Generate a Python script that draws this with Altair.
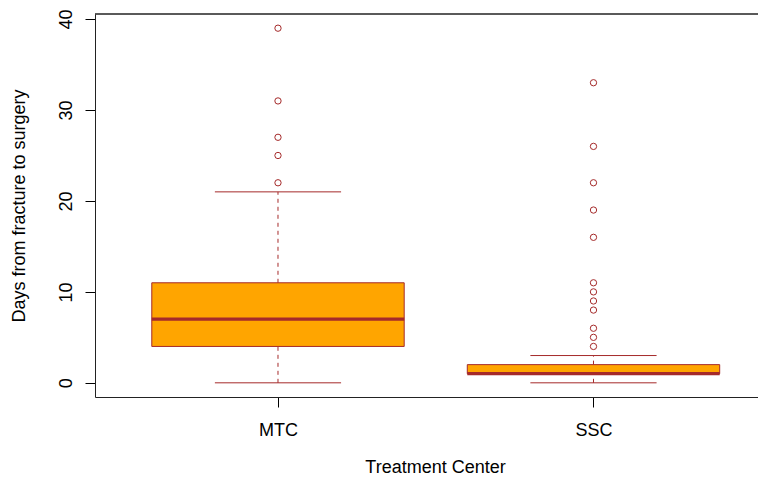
import altair as alt
import pandas as pd

groups = ["MTC", "SSC"]
whisker_low = [0, 0]
q1 = [4, 1]
median = [7, 1]
q3 = [11, 2]
whisker_high = [21, 3]
outliers_mtc = [22, 25, 27, 31, 39]
outliers_ssc = [4, 5, 6, 8, 9, 10, 11, 16, 19, 22, 26, 33]
y_ticks = [0, 10, 20, 30, 40]

box_df = pd.DataFrame({
    "group": groups,
    "pos": list(range(1, len(groups) + 1)),
    "lo": whisker_low,
    "q1": q1,
    "med": median,
    "q3": q3,
    "hi": whisker_high,
})
out_df = pd.DataFrame({
    "group": ["MTC"] * len(outliers_mtc) + ["SSC"] * len(outliers_ssc),
    "val": outliers_mtc + outliers_ssc,
})
out_df["pos"] = out_df["group"].map({g: i + 1 for i, g in enumerate(groups)})

BROWN = "#A52A2A"
ORANGE = "#FFA500"
FONT = "Liberation Sans"
W, H = 663, 383

xscale = alt.Scale(domain=[0.42, 0.42 + W / 315.5], nice=False, zero=False)
yscale = alt.Scale(domain=[-1.56, 40.56], nice=False, zero=False)

label_expr = "datum.value == 1 ? 'MTC' : datum.value == 2 ? 'SSC' : ''"

xaxis = alt.Axis(
    values=[1, 2], labelExpr=label_expr, grid=False, domain=True,
    domainColor="#222", domainWidth=1,
    tickSize=10, tickColor="#000", labelPadding=14, labelFontSize=18,
    labelFont=FONT, labelColor="#000", title="Treatment Center",
    titleFont=FONT, titleFontSize=18, titleFontWeight="normal", titleColor="#000",
    titleX=340, titleY=75, titleBaseline="alphabetic", titleAlign="center",
)
yaxis = alt.Axis(
    values=y_ticks, grid=False, domain=True, domainColor="#222", domainWidth=1,
    tickSize=10, tickColor="#000",
    labelAngle=-90, labelAlign="center", labelBaseline="alphabetic",
    labelPadding=14, labelFontSize=18, labelFont=FONT, labelColor="#000",
    title="Days from fracture to surgery", titleFont=FONT, titleFontSize=18,
    titleFontWeight="normal", titleColor="#000", titleAngle=-90,
    titleBaseline="alphabetic", titleAlign="center", titleX=-71, titleY=191.5,
)

base = alt.Chart(box_df).transform_calculate(
    bl="datum.pos - 0.4", br="datum.pos + 0.4",
    cl="datum.pos - 0.2", cr="datum.pos + 0.2",
)

whisk_up = base.mark_rule(color=BROWN, strokeDash=[4, 4], strokeWidth=1).encode(
    x=alt.X("pos:Q", scale=xscale, axis=xaxis),
    y=alt.Y("q3:Q", scale=yscale, axis=yaxis),
    y2="hi:Q",
)
whisk_dn = base.mark_rule(color=BROWN, strokeDash=[4, 4], strokeWidth=1).encode(
    x=alt.X("pos:Q", scale=xscale), y=alt.Y("lo:Q", scale=yscale), y2="q1:Q",
)
cap_hi = base.mark_rule(color=BROWN, strokeWidth=1).encode(
    x=alt.X("cl:Q", scale=xscale), x2="cr:Q", y=alt.Y("hi:Q", scale=yscale),
)
cap_lo = base.mark_rule(color=BROWN, strokeWidth=1).encode(
    x=alt.X("cl:Q", scale=xscale), x2="cr:Q", y=alt.Y("lo:Q", scale=yscale),
)
box = base.mark_rect(fill=ORANGE, stroke=BROWN, strokeWidth=1).encode(
    x=alt.X("bl:Q", scale=xscale), x2="br:Q",
    y=alt.Y("q1:Q", scale=yscale), y2="q3:Q",
)
med = base.mark_rule(color=BROWN, strokeWidth=3.3).encode(
    x=alt.X("bl:Q", scale=xscale), x2="br:Q", y=alt.Y("med:Q", scale=yscale),
)
pts = alt.Chart(out_df).mark_point(
    shape="circle", filled=False, stroke=BROWN, strokeWidth=1, size=40, opacity=1
).encode(
    x=alt.X("pos:Q", scale=xscale), y=alt.Y("val:Q", scale=yscale),
)
top_line = alt.Chart(box_df).mark_rule(color="#222", strokeWidth=1).encode(
    x=alt.value(0), x2=alt.value(W), y=alt.value(0),
)

chart = alt.layer(whisk_up, whisk_dn, cap_hi, cap_lo, box, med, pts, top_line).properties(
    width=W, height=H,
    autosize=alt.AutoSizeParams(type="none"),
    padding={"left": 87, "top": 6, "right": 0, "bottom": 80},
).configure_view(stroke=None)

chart.save("out.html", embed_options={"renderer": "svg", "actions": False})
